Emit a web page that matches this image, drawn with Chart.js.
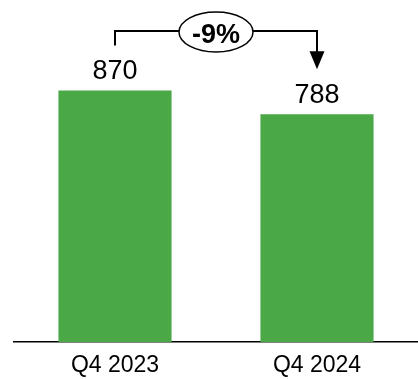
<!DOCTYPE html>
<html>
<head>
<meta charset="utf-8">
<script src="https://cdn.jsdelivr.net/npm/chart.js@4.4.1/dist/chart.umd.min.js"></script>
<style>
  html, body { margin: 0; padding: 0; background: #fff; }
  #wrap { width: 418px; height: 379px; position: relative; }
</style>
</head>
<body>
<div id="wrap"><canvas id="quarterChart"></canvas></div>
<script>
// quarter totals
var categories = ['Q4 2023', 'Q4 2024'];
var totals = [870, 788];

var barColor = '#4aa846';
var fontFamily = '"Liberation Sans", Arial, sans-serif';

// value labels above bars + change bracket between them
var labelsPlugin = {
  id: 'quarterLabels',
  afterDatasetsDraw: function (chart) {
    var ctx = chart.ctx;
    var meta = chart.getDatasetMeta(0);
    var x0 = meta.data[0].x, x1 = meta.data[1].x;
    var top0 = meta.data[0].y, top1 = meta.data[1].y;

    ctx.save();
    ctx.fillStyle = '#000';
    ctx.font = '27px ' + fontFamily;
    ctx.textAlign = 'center';
    ctx.textBaseline = 'alphabetic';
    meta.data.forEach(function (bar, i) {
      ctx.fillText(totals[i], bar.x, bar.y - 11.5);
    });

    // bracket
    var lineY = 31;
    ctx.strokeStyle = '#000';
    ctx.lineWidth = 2;
    ctx.beginPath();
    ctx.moveTo(x0, top0 - 45);
    ctx.lineTo(x0, lineY);
    ctx.lineTo(x1, lineY);
    ctx.lineTo(x1, top1 - 60);
    ctx.stroke();

    // arrow head
    ctx.fillStyle = '#000';
    ctx.beginPath();
    ctx.moveTo(x1 - 7.5, top1 - 63);
    ctx.lineTo(x1 + 7.5, top1 - 63);
    ctx.lineTo(x1, top1 - 45);
    ctx.closePath();
    ctx.fill();

    // change badge
    var cx = (x0 + x1) / 2, cy = 32;
    ctx.beginPath();
    ctx.ellipse(cx, cy, 37, 20, 0, 0, Math.PI * 2);
    ctx.fillStyle = '#fff';
    ctx.fill();
    ctx.lineWidth = 1.5;
    ctx.stroke();
    var pct = Math.round((totals[1] - totals[0]) / totals[0] * 100);
    ctx.fillStyle = '#000';
    ctx.font = 'bold 27px ' + fontFamily;
    ctx.textBaseline = 'alphabetic';
    ctx.fillText(pct + '%', cx, 42.5);
    ctx.restore();
  }
};

var ctx = document.getElementById('quarterChart').getContext('2d');
var quarterChart = new Chart(ctx, {
  type: 'bar',
  data: {
    labels: categories,
    datasets: [{
      data: totals,
      backgroundColor: barColor,
      borderWidth: 0,
      barPercentage: 0.56,
      categoryPercentage: 1
    }]
  },
  options: {
    responsive: true,
    maintainAspectRatio: false,
    animation: false,
    layout: {
      padding: { left: 14, right: 0, top: 53, bottom: -10 }
    },
    plugins: {
      legend: { display: false },
      tooltip: { enabled: false }
    },
    scales: {
      x: {
        grid: { display: false, drawTicks: false },
        border: { display: true, color: '#000', width: 1.5 },
        ticks: {
          color: '#000',
          padding: 12,
          font: { family: fontFamily, size: 23, lineHeight: 1 }
        }
      },
      y: {
        display: false,
        min: 0,
        max: 1000
      }
    }
  },
  plugins: [labelsPlugin]
});
</script>
</body>
</html>
